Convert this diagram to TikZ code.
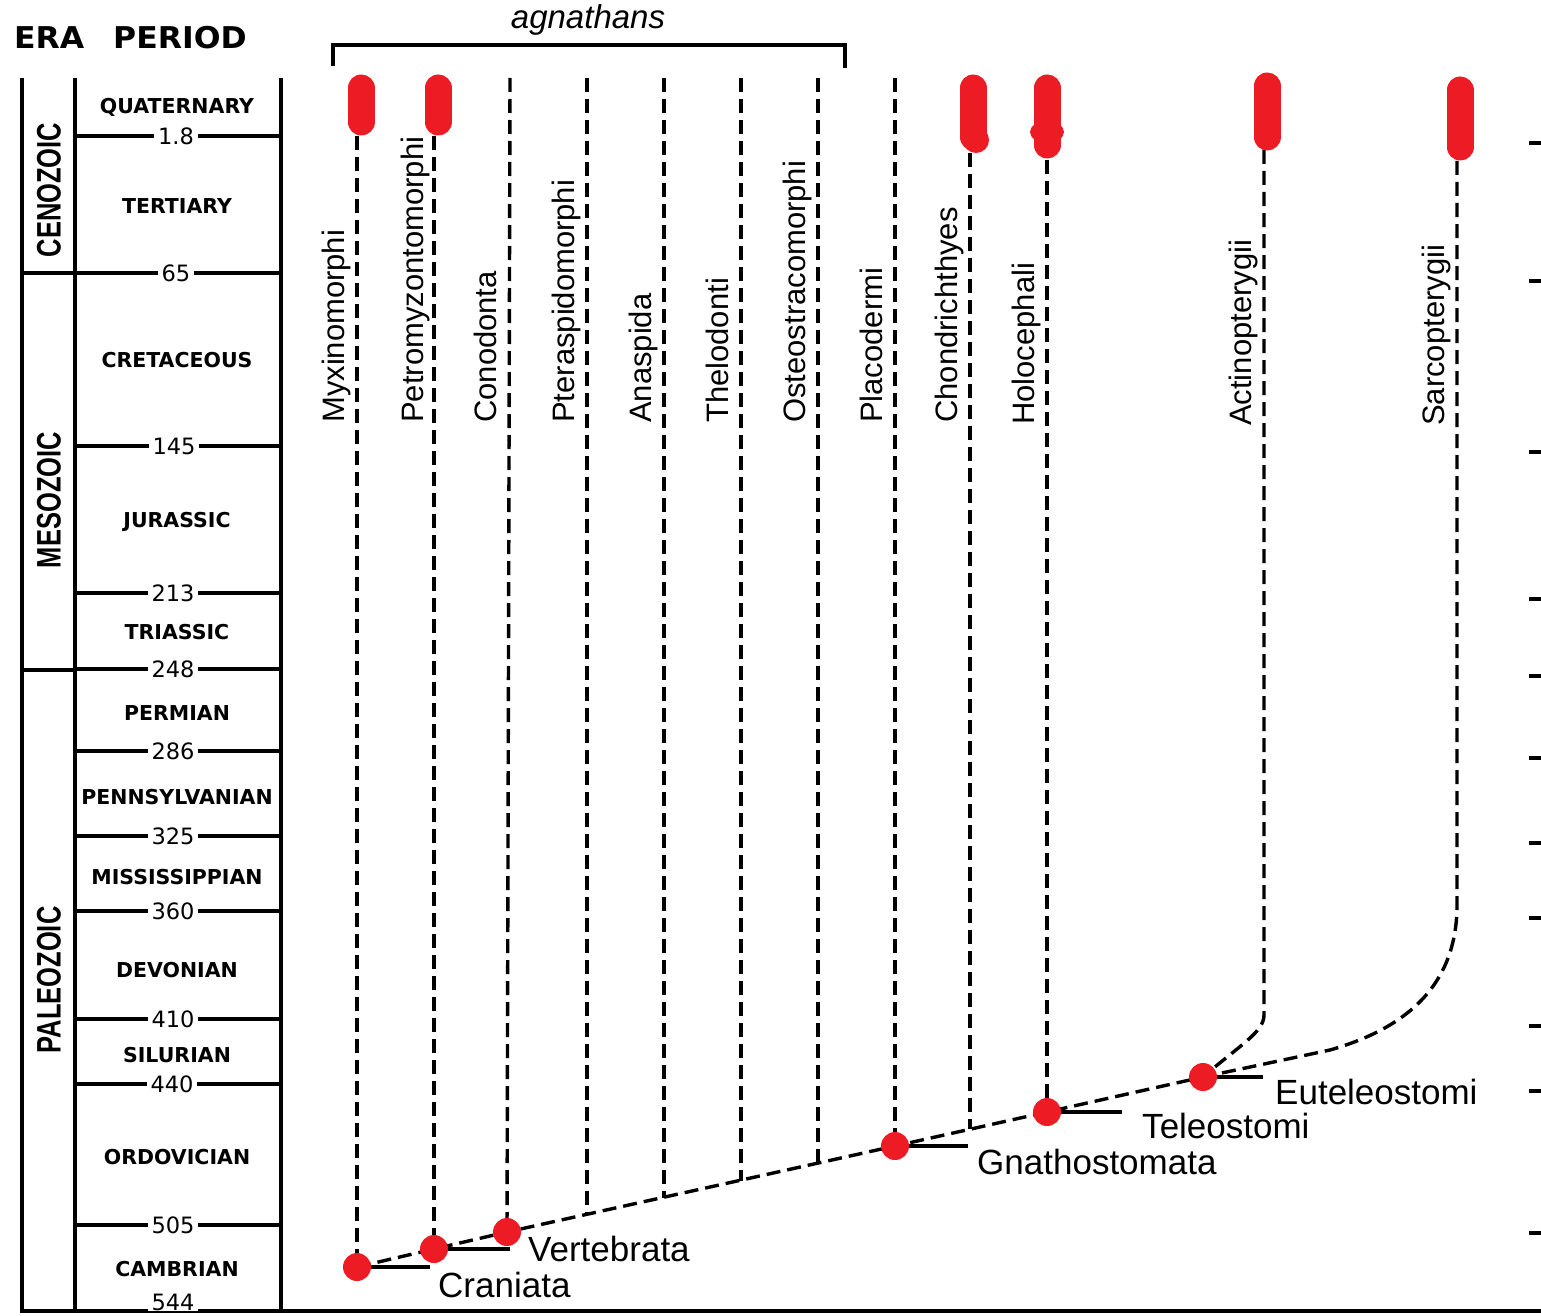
\documentclass[tikz,border=0pt]{standalone}
\usepackage{fontspec}
\setmainfont{Liberation Sans}
\newfontfamily\tabfont{DejaVu Sans}
\newfontfamily\headfont[FakeStretch=1.05]{DejaVu Sans}
\newfontfamily\erafont[FakeStretch=0.75]{Liberation Sans}
\usepackage{tikz}
\usetikzlibrary{backgrounds}
\definecolor{cladered}{RGB}{237,28,36}

\begin{document}
\begin{tikzpicture}[x=1pt, y=-1pt,
  rule/.style={line width=3.2pt},
  lineage/.style={line width=3.4pt, dash pattern=on 14pt off 7pt},
  bar/.style={draw=cladered, line width=27pt, line cap=round},
  dot/.style={circle, fill=cladered, inner sep=0pt, minimum size=28pt},
  head/.style={anchor=base west, inner sep=0pt, font=\headfont\bfseries\fontsize{30}{32}\selectfont},
  period/.style={font=\tabfont\bfseries\fontsize{20.5}{22}\selectfont},
  age/.style={fill=white, inner xsep=4pt, inner ysep=1pt, font=\tabfont\fontsize{22.5}{24}\selectfont},
  era/.style={rotate=90, font=\erafont\bfseries\fontsize{34}{36}\selectfont},
  taxon/.style={rotate=90, anchor=base west, inner sep=0pt, font=\fontsize{31}{33}\selectfont},
  clade/.style={inner sep=0pt, font=\fontsize{35}{37}\selectfont}]
\useasboundingbox (0,0) rectangle (1541,1316);

% header
\node[head] (hera) at (14,49) {ERA};
\node[head] (hper) at (113,49) {PERIOD};

% time scale table
\draw[rule] (22,78) -- (22,1311) -- (1541,1311);
\draw[rule] (75,78) -- (75,1311);
\draw[rule] (281,78) -- (281,1311);
\draw[rule] (22,273) -- (75,273);
\draw[rule] (22,670) -- (75,670);
\draw[rule] (75,136) -- (281,136);
\draw[rule] (75,273) -- (281,273);
\draw[rule] (75,446) -- (281,446);
\draw[rule] (75,593) -- (281,593);
\draw[rule] (75,669) -- (281,669);
\draw[rule] (75,751) -- (281,751);
\draw[rule] (75,836) -- (281,836);
\draw[rule] (75,911) -- (281,911);
\draw[rule] (75,1019) -- (281,1019);
\draw[rule] (75,1084) -- (281,1084);
\draw[rule] (75,1225) -- (281,1225);

\node[age] (a1) at (176,136) {1.8};
\node[age] (a2) at (176,273) {65};
\node[age] (a3) at (174,446) {145};
\node[age] (a4) at (173,593) {213};
\node[age] (a5) at (173,669) {248};
\node[age] (a6) at (173,751) {286};
\node[age] (a7) at (173,836) {325};
\node[age] (a8) at (173,911) {360};
\node[age] (a9) at (173,1019) {410};
\node[age] (a10) at (172,1084) {440};
\node[age] (a11) at (173,1225) {505};
\node[age] (a12) at (173,1302) {544};

\node[period] (p1) at (177,107) {QUATERNARY};
\node[period] (p2) at (177,206) {TERTIARY};
\node[period] (p3) at (177,360) {CRETACEOUS};
\node[period] (p4) at (177,522) {JURASSIC};
\node[period] (p5) at (177,632) {TRIASSIC};
\node[period] (p6) at (177,713) {PERMIAN};
\node[period] (p7) at (177,797) {PENNSYLVANIAN};
\node[period] (p8) at (177,877) {MISSISSIPPIAN};
\node[period] (p9) at (177,970) {DEVONIAN};
\node[period] (p10) at (177,1055) {SILURIAN};
\node[period] (p11) at (177,1157) {ORDOVICIAN};
\node[period] (p12) at (177,1269) {CAMBRIAN};

\node[era] (e1) at (49,190) {CENOZOIC};
\node[era] (e2) at (49,500) {MESOZOIC};
\node[era] (e3) at (49,980) {PALEOZOIC};

% ticks on the right edge
\foreach \ty in {143,281,452,599,676,758,843,918,1026,1091,1233}
  \draw[rule] (1529,\ty) -- (1541,\ty);

% agnathans bracket
\node[inner sep=0pt, font=\itshape\fontsize{33}{35}\selectfont] (agn) at (588,20) {agnathans};
\draw[rule] (333,66) -- (333,45) -- (845,45) -- (845,68);

% clade nodes on the spine
\node[dot] (cra) at (357,1267) {};
\node[dot] (vrt) at (434,1249) {};
\node[dot] (con) at (507,1232) {};
\node[dot] (gna) at (895,1146) {};
\node[dot] (tel) at (1047,1112) {};
\node[dot] (eut) at (1203,1077) {};
\coordinate (pte) at (587,1215);
\coordinate (ana) at (664,1198);
\coordinate (the) at (741,1181);
\coordinate (ost) at (818,1163);
\coordinate (cho) at (970,1129);

% lineages, behind the dots
\begin{scope}[on background layer]
\draw[lineage] (cra.center) -- (vrt.center) -- (con.center) -- (gna.center) -- (tel.center) -- (eut.center);
\draw[lineage] (357,136) -- (cra.center);
\draw[lineage] (434,136) -- (vrt.center);
\draw[lineage] (510,78) -- (con.center);
\draw[lineage] (587,78) -- (pte);
\draw[lineage] (664,78) -- (ana);
\draw[lineage] (741,78) -- (the);
\draw[lineage] (818,78) -- (ost);
\draw[lineage] (895,78) -- (gna.center);
\draw[lineage] (970,153) -- (cho);
\draw[lineage] (1047,160) -- (tel.center);
\draw[lineage] (1264,150) -- (1264,1015) .. controls (1264,1032) and (1240,1045) .. (eut.center);
\draw[lineage] (1457,161) -- (1457,905) .. controls (1457,990) and (1400,1030) .. (1330,1050) -- (eut.center);
\end{scope}

% living groups
\draw[bar] (361,88) -- (361,122);
\draw[bar] (438,88) -- (438,122);
\draw[bar] (973,88) -- (973,137);
\fill[cladered] (976,140) circle (13pt);
\draw[bar] (1047,88) -- (1047,145);
\fill[cladered] (1047,132) ellipse [x radius=17pt, y radius=11pt];
\draw[bar] (1267,86) -- (1267,137);
\draw[bar] (1460,90) -- (1460,147);

\node[taxon] (t1) at (344,423) {Myxinomorphi};
\node[taxon] (t2) at (423,423) {Petromyzontomorphi};
\node[taxon] (t3) at (496,423) {Conodonta};
\node[taxon] (t4) at (574,423) {Pteraspidomorphi};
\node[taxon] (t5) at (651,423) {Anaspida};
\node[taxon] (t6) at (728,423) {Thelodonti};
\node[taxon] (t7) at (805,423) {Osteostracomorphi};
\node[taxon] (t8) at (882,423) {Placodermi};
\node[taxon] (t9) at (957,423) {Chondrichthyes};
\node[taxon] (t10) at (1034,425) {Holocephali};
\node[taxon] (t11) at (1251,426) {Actinopterygii};
\node[taxon] (t12) at (1444,426) {Sarcopterygii};

% clade labels
\node[clade, anchor=north west] (craL) at (438,1272) {Craniata};
\node[clade, anchor=west] (vrtL) at (528,1249) {Vertebrata};
\node[clade, anchor=north west] (gnaL) at (977,1149) {Gnathostomata};
\node[clade, anchor=north west] (telL) at (1142,1113) {Teleostomi};
\node[clade, anchor=north west] (eutL) at (1275,1079) {Euteleostomi};
\draw[rule, shorten >=8pt] (cra.east) -- (cra.east -| craL.west);
\draw[rule, shorten >=18pt] (vrt.east) -- (vrt.east -| vrtL.west);
\draw[rule, shorten >=9pt] (gna.east) -- (gna.east -| gnaL.west);
\draw[rule, shorten >=20pt] (tel.east) -- (tel.east -| telL.west);
\draw[rule, shorten >=12pt] (eut.east) -- (eut.east -| eutL.west);
\end{tikzpicture}
\end{document}
